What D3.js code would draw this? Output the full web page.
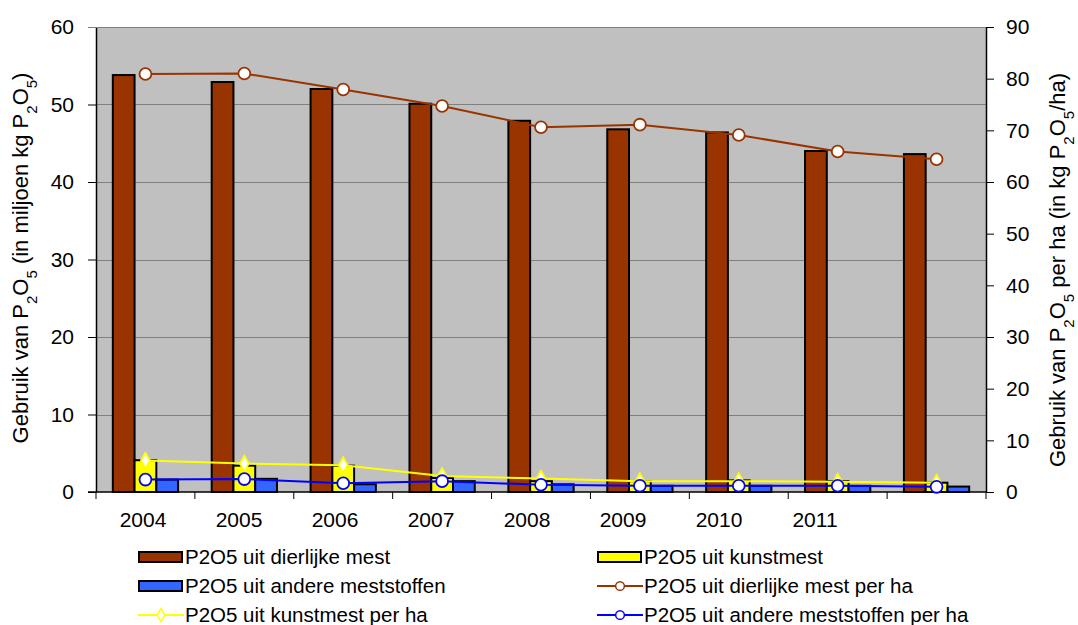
<!DOCTYPE html>
<html>
<head>
<meta charset="utf-8">
<script src="https://cdn.jsdelivr.net/npm/d3@7"></script>
<style>
  body { margin: 0; background: #fff; }
  text { font-family: "Liberation Sans", Arial, sans-serif; fill: #000; }
</style>
</head>
<body>
<div id="wrapper"></div>
<script>
// Data
const years = ["2004", "2005", "2006", "2007", "2008", "2009", "2010", "2011", "2012"];
const yearLabels = ["2004", "2005", "2006", "2007", "2008", "2009", "2010", "2011"];
const animalManure = [53.8, 52.9, 52.0, 50.1, 47.9, 46.8, 46.4, 44.0, 43.6];
const fertilizer = [4.1, 3.4, 3.4, 1.8, 1.4, 1.4, 1.5, 1.4, 1.2];
const otherFertilizer = [1.6, 1.7, 1.0, 1.4, 1.0, 0.8, 0.8, 0.8, 0.7];
const animalPerHa = [80.9, 81.0, 77.9, 74.7, 70.6, 71.1, 69.1, 65.9, 64.4];
const fertilizerPerHa = [6.1, 5.5, 5.2, 3.1, 2.6, 2.1, 2.1, 2.0, 1.8];
const otherPerHa = [2.4, 2.5, 1.7, 2.1, 1.4, 1.2, 1.2, 1.2, 1.0];
const leftTicks = [0, 10, 20, 30, 40, 50, 60];
const rightTicks = [0, 10, 20, 30, 40, 50, 60, 70, 80, 90];

const colors = {
  animal: "#993300",
  fert: "#ffff00",
  other: "#3366ff",
  otherLine: "#0000ff",
};

// Dimensions
const dimensions = {
  width: 1078,
  height: 625,
  margin: { top: 27, right: 92, bottom: 133, left: 96 },
};
dimensions.boundedWidth = dimensions.width - dimensions.margin.left - dimensions.margin.right;
dimensions.boundedHeight = dimensions.height - dimensions.margin.top - dimensions.margin.bottom;

const svg = d3.select("#wrapper").append("svg")
    .attr("width", dimensions.width)
    .attr("height", dimensions.height);

const bounds = svg.append("g")
    .attr("transform", `translate(${dimensions.margin.left},${dimensions.margin.top})`);

// Scales
const xScale = d3.scaleBand()
    .domain(years)
    .range([0, dimensions.boundedWidth]);
const bandW = xScale.bandwidth();
const barScale = d3.scaleBand()
    .domain(["animal", "fert", "other"])
    .range([bandW * 0.17, bandW * 0.83]);
// the category labels in the original sit slightly tighter than the bands
const labelScale = d3.scalePoint()
    .domain(yearLabels)
    .range([47, 719]);
const yLeft = d3.scaleLinear().domain([0, 60]).range([dimensions.boundedHeight, 0]);
const yRight = d3.scaleLinear().domain([0, 90]).range([dimensions.boundedHeight, 0]);

// Plot background + grid
bounds.append("rect")
    .attr("width", dimensions.boundedWidth)
    .attr("height", dimensions.boundedHeight)
    .attr("fill", "#c0c0c0");

bounds.append("g").selectAll("line")
  .data(leftTicks.filter(d => d > 0))
  .join("line")
    .attr("x1", 0)
    .attr("x2", dimensions.boundedWidth)
    .attr("y1", d => Math.round(yLeft(d)) + 0.5)
    .attr("y2", d => Math.round(yLeft(d)) + 0.5)
    .attr("stroke", "#808080")
    .attr("stroke-width", 1);

// Bars
const barSeries = [
  { key: "animal", values: animalManure },
  { key: "fert", values: fertilizer },
  { key: "other", values: otherFertilizer },
];
barSeries.forEach(s => {
  bounds.append("g").selectAll("rect")
    .data(s.values)
    .join("rect")
      .attr("x", (d, i) => xScale(years[i]) + barScale(s.key))
      .attr("y", d => yLeft(d))
      .attr("width", barScale.bandwidth())
      .attr("height", d => dimensions.boundedHeight - yLeft(d))
      .attr("fill", colors[s.key])
      .attr("stroke", "#000")
      .attr("stroke-width", 2);
});

// Axes
const tickFont = g => g.selectAll(".tick text")
    .attr("font-size", 21)
    .attr("font-family", "Liberation Sans, Arial, sans-serif");

const yAxisLeft = d3.axisLeft(yLeft).tickValues(leftTicks).tickSize(8).tickSizeOuter(0);
const gl = bounds.append("g").call(yAxisLeft).call(tickFont);
gl.select(".domain").attr("stroke", "#000").attr("stroke-width", 1.5);
gl.selectAll(".tick line").attr("stroke", "#000");
gl.selectAll(".tick text").attr("x", -22);

const yAxisRight = d3.axisRight(yRight).tickValues(rightTicks).tickSize(8).tickSizeOuter(0);
const gr = bounds.append("g").attr("transform", `translate(${dimensions.boundedWidth},0)`)
    .call(yAxisRight).call(tickFont);
gr.select(".domain").attr("stroke", "#000").attr("stroke-width", 1.5);
gr.selectAll(".tick line").attr("stroke", "#000");
gr.selectAll(".tick text").attr("x", 20);

// top border
bounds.append("line")
    .attr("x1", -8).attr("x2", dimensions.boundedWidth)
    .attr("y1", 0.5).attr("y2", 0.5)
    .attr("stroke", "#808080");

// bottom category axis
const gx = bounds.append("g").attr("transform", `translate(0,${dimensions.boundedHeight})`);
gx.append("line")
    .attr("x1", -8).attr("x2", dimensions.boundedWidth)
    .attr("stroke", "#000").attr("stroke-width", 1.5);
gx.selectAll("line.tick")
  .data(years.map(y => xScale(y)).concat([dimensions.boundedWidth]))
  .join("line")
    .attr("class", "tick")
    .attr("x1", d => d).attr("x2", d => d)
    .attr("y1", 0).attr("y2", 7)
    .attr("stroke", "#000");
gx.selectAll("text")
  .data(yearLabels)
  .join("text")
    .attr("x", d => labelScale(d))
    .attr("y", 35)
    .attr("text-anchor", "middle")
    .attr("font-size", 21)
    .text(d => d);

// Lines
const lineSeries = [
  { values: animalPerHa, color: colors.animal, marker: "circle" },
  { values: fertilizerPerHa, color: colors.fert, marker: "diamond" },
  { values: otherPerHa, color: colors.otherLine, marker: "circle" },
];
const lineGen = d3.line()
    .x((d, i) => xScale(years[i]) + bandW / 2)
    .y(d => yRight(d));

lineSeries.forEach(s => {
  bounds.append("path")
      .datum(s.values)
      .attr("d", lineGen)
      .attr("fill", "none")
      .attr("stroke", s.color)
      .attr("stroke-width", 2);
  const sym = s.marker === "circle" ? d3.symbolCircle : d3.symbolDiamond;
  const size = s.marker === "circle" ? 110 : 70;
  bounds.append("g").selectAll("path")
    .data(s.values)
    .join("path")
      .attr("d", d3.symbol(sym, size))
      .attr("transform", (d, i) => `translate(${xScale(years[i]) + bandW / 2},${yRight(d)})`)
      .attr("fill", "#fff")
      .attr("stroke", s.color)
      .attr("stroke-width", 1.8);
});

// Axis titles with subscripts
function subTitle(g, parts) {
  const t = g.append("text")
      .attr("font-size", 22)
      .attr("text-anchor", "middle");
  parts.forEach(p => {
    if (typeof p === "string") {
      t.append("tspan").text(p);
    } else {
      t.append("tspan").attr("baseline-shift", "sub").attr("font-size", 15).text(p.sub);
    }
  });
  return t;
}
subTitle(svg.append("g").attr("transform", "translate(28,258) rotate(-90)"),
  ["Gebruik van P", { sub: "2" }, "O", { sub: "5" }, " (in miljoen kg P", { sub: "2" }, "O", { sub: "5" }, ")"]);
subTitle(svg.append("g").attr("transform", "translate(1065,270) rotate(-90)"),
  ["Gebruik van P", { sub: "2" }, "O", { sub: "5" }, " per ha (in kg P", { sub: "2" }, "O", { sub: "5" }, "/ha)"]);

// Legend
const legendItems = [
  { label: "P2O5 uit dierlijke mest", type: "bar", color: colors.animal },
  { label: "P2O5 uit kunstmest", type: "bar", color: colors.fert },
  { label: "P2O5 uit andere meststoffen", type: "bar", color: colors.other },
  { label: "P2O5 uit dierlijke mest per ha", type: "line", color: colors.animal, marker: "circle" },
  { label: "P2O5 uit kunstmest per ha", type: "line", color: colors.fert, marker: "diamond" },
  { label: "P2O5 uit andere meststoffen per ha", type: "line", color: colors.otherLine, marker: "circle" },
];
const legendCol = d3.scaleOrdinal().domain([0, 1]).range([138, 597]);
const legendRow = d3.scaleLinear().domain([0, 2]).range([557, 615]);
const legend = svg.append("g");
legendItems.forEach((item, i) => {
  const g = legend.append("g")
      .attr("transform", `translate(${legendCol(i % 2)},${legendRow(Math.floor(i / 2))})`);
  if (item.type === "bar") {
    g.append("rect")
        .attr("x", 1).attr("y", -5)
        .attr("width", 43).attr("height", 10)
        .attr("fill", item.color)
        .attr("stroke", "#000").attr("stroke-width", 2);
  } else {
    g.append("line")
        .attr("x1", 0).attr("x2", 46)
        .attr("stroke", item.color).attr("stroke-width", 2);
    g.append("path")
        .attr("d", d3.symbol(item.marker === "circle" ? d3.symbolCircle : d3.symbolDiamond, item.marker === "circle" ? 60 : 50))
        .attr("transform", "translate(23,0)")
        .attr("fill", "#fff")
        .attr("stroke", item.color)
        .attr("stroke-width", 1.5);
  }
  g.append("text")
      .attr("x", 47)
      .attr("dy", "0.35em")
      .attr("font-size", 20.5)
      .text(item.label);
});
</script>
</body>
</html>
